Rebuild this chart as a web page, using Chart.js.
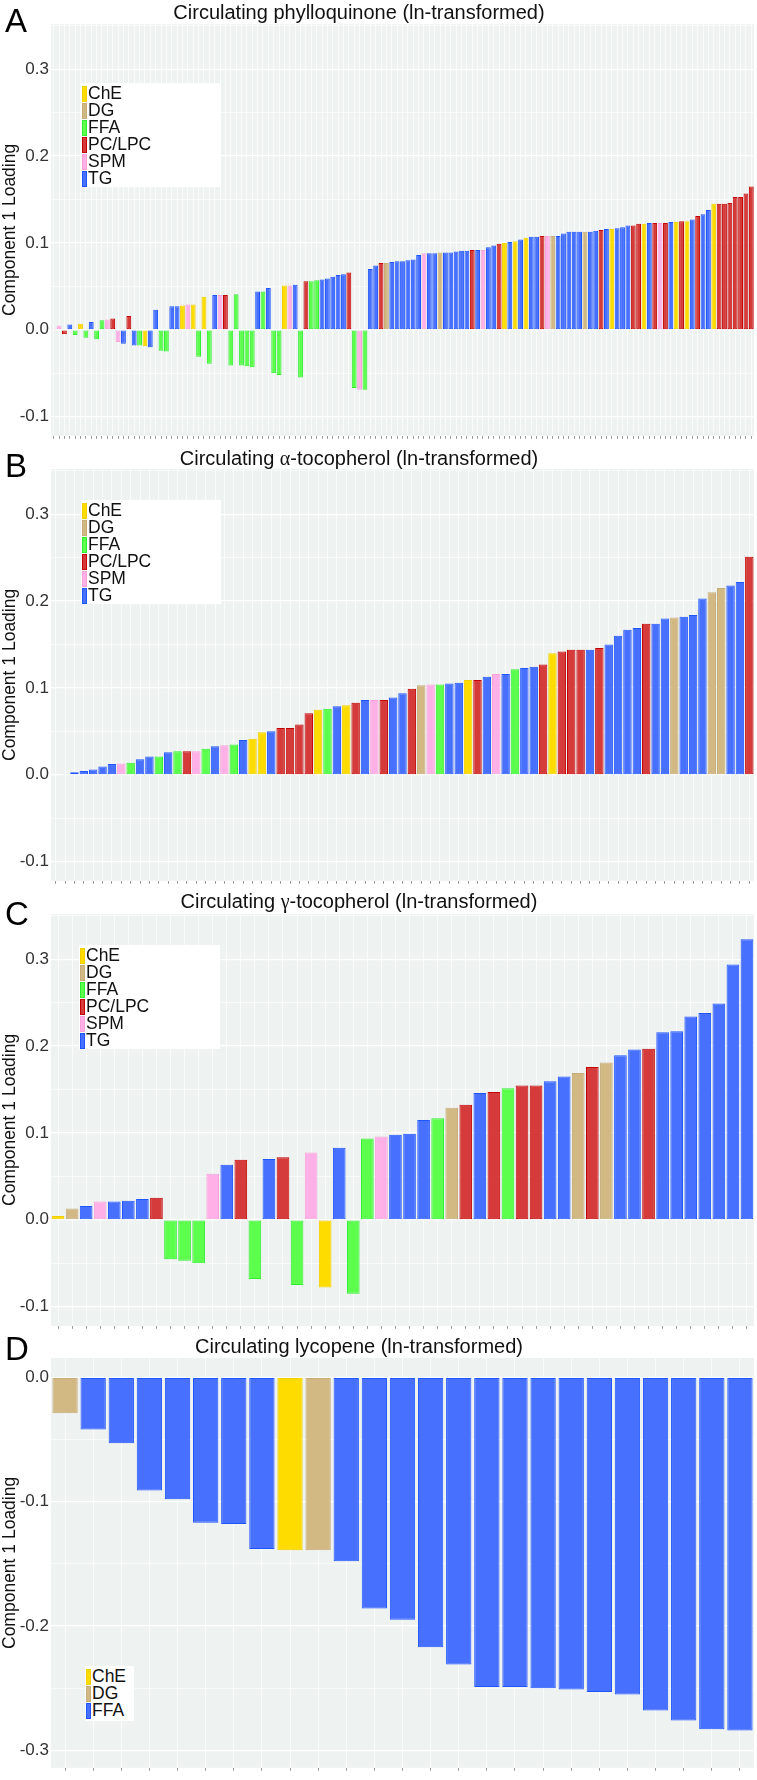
<!DOCTYPE html>
<html>
<head>
<meta charset="utf-8">
<script src="https://cdn.jsdelivr.net/npm/chart.js@4.4.1/dist/chart.umd.min.js"></script>
<style>
  body { margin: 0; width: 757px; height: 1780px; position: relative; background: #fff;
         font-family: "Liberation Sans", Arial, sans-serif; overflow: hidden; }
  .panel { position: absolute; left: 0; width: 757px; }
  .letter { position: absolute; left: 5px; font-size: 33px; line-height: 33px; color: #000; }
  .title { position: absolute; left: 0; width: 718px; text-align: center; font-size: 20px;
           line-height: 20px; color: #111; white-space: nowrap; }
  .title .gk { font-family: "Liberation Serif", serif; }
  .legend { position: absolute; background: #fff; box-sizing: border-box; padding-top: 2px; }
  .legend .row { position: relative; height: 17px; line-height: 17px; font-size: 17.5px;
                 padding-left: 7px; color: #111; }
  .legend .key { position: absolute; left: 1px; top: 0.5px; width: 3px; height: 14px; border: 1px solid; }
</style>
</head>
<body>
<div class="panel" style="top:0px;height:448px"><canvas id="chartA"></canvas></div>
<div class="panel" style="top:445px;height:448px"><canvas id="chartB"></canvas></div>
<div class="panel" style="top:890px;height:448px"><canvas id="chartC"></canvas></div>
<div class="panel" style="top:1334px;height:446px"><canvas id="chartD"></canvas></div>

<div class="title" style="top:1.5px">Circulating phylloquinone (ln-transformed)</div>
<div class="title" style="top:448px">Circulating <span class="gk">α</span>-tocopherol (ln-transformed)</div>
<div class="title" style="top:891px">Circulating <span class="gk">γ</span>-tocopherol (ln-transformed)</div>
<div class="title" style="top:1336px">Circulating lycopene (ln-transformed)</div>

<div class="letter" style="top:3.7px">A</div>
<div class="letter" style="top:449px">B</div>
<div class="letter" style="top:897px">C</div>
<div class="letter" style="top:1332px">D</div>

<div class="legend" id="legA" style="left:81px;top:83px;width:140px;height:104px"></div>
<div class="legend" id="legB" style="left:81px;top:500px;width:140px;height:104px"></div>
<div class="legend" id="legC" style="left:79px;top:945px;width:141px;height:104px"></div>
<div class="legend" id="legD" style="left:85px;top:1666px;width:49px;height:55px"></div>

<script>
// lipid classes, one per bar, sorted as in the figure
const classesA = [
  'PC/LPC','SPM','PC/LPC','TG','FFA','ChE','FFA','TG','FFA','FFA',
  'SPM','PC/LPC','SPM','TG','PC/LPC','TG','FFA','ChE','TG','TG',
  'FFA','FFA','TG','TG','ChE','SPM','ChE','FFA','ChE','FFA',
  'TG','SPM','PC/LPC','FFA','FFA','FFA','FFA','FFA','TG','FFA',
  'TG','FFA','FFA','ChE','SPM','TG','FFA','PC/LPC','FFA','FFA',
  'TG','TG','TG','TG','TG','PC/LPC','FFA','SPM','FFA','TG',
  'TG','PC/LPC','DG','TG','TG','TG','TG','TG','TG','SPM',
  'TG','TG','DG','TG','TG','TG','TG','TG','PC/LPC','TG',
  'SPM','TG','TG','PC/LPC','ChE','TG','ChE','TG','ChE','TG',
  'TG','PC/LPC','SPM','DG','TG','TG','TG','TG','TG','DG',
  'TG','TG','PC/LPC','TG','ChE','TG','TG','TG','PC/LPC','PC/LPC',
  'ChE','TG','PC/LPC','SPM','PC/LPC','TG','ChE','PC/LPC','ChE','TG',
  'PC/LPC','TG','TG','ChE','PC/LPC','PC/LPC','PC/LPC','PC/LPC','PC/LPC','PC/LPC',
  'PC/LPC'
];
const valuesA = [
  0.001, 0.005, -0.005, 0.006, -0.006, 0.007, -0.009, 0.009, -0.011, 0.011,
  0.012, 0.013, -0.014, -0.016, 0.016, -0.018, -0.018, -0.019, -0.020, 0.023,
  -0.024, -0.025, 0.027, 0.027, 0.028, 0.029, 0.029, -0.031, 0.038, -0.039,
  0.040, 0.040, 0.040, -0.041, 0.041, -0.041, -0.042, -0.043, 0.044, 0.044,
  0.048, -0.050, -0.052, 0.051, 0.051, 0.052, -0.055, 0.056, 0.056, 0.057,
  0.058, 0.059, 0.061, 0.063, 0.064, 0.066, -0.067, -0.069, -0.069, 0.070,
  0.074, 0.077, 0.077, 0.078, 0.079, 0.079, 0.080, 0.081, 0.086, 0.088,
  0.088, 0.088, 0.089, 0.089, 0.089, 0.090, 0.091, 0.091, 0.092, 0.092,
  0.092, 0.095, 0.097, 0.099, 0.100, 0.101, 0.102, 0.104, 0.106, 0.107,
  0.107, 0.108, 0.108, 0.108, 0.108, 0.111, 0.113, 0.113, 0.113, 0.113,
  0.113, 0.114, 0.115, 0.116, 0.116, 0.117, 0.118, 0.120, 0.120, 0.122,
  0.122, 0.123, 0.123, 0.123, 0.123, 0.124, 0.124, 0.125, 0.125, 0.127,
  0.131, 0.133, 0.138, 0.145, 0.145, 0.145, 0.146, 0.153, 0.153, 0.157,
  0.165
];

const classesB = [
  'TG','FFA','TG','TG','TG','TG','TG','SPM','FFA','TG',
  'TG','FFA','TG','FFA','PC/LPC','SPM','FFA','TG','SPM','FFA',
  'TG','ChE','ChE','TG','PC/LPC','PC/LPC','PC/LPC','PC/LPC','ChE','FFA',
  'TG','ChE','PC/LPC','TG','SPM','PC/LPC','TG','TG','PC/LPC','DG',
  'SPM','FFA','TG','TG','ChE','PC/LPC','TG','SPM','TG','FFA',
  'TG','TG','PC/LPC','ChE','PC/LPC','PC/LPC','PC/LPC','TG','PC/LPC','TG',
  'TG','TG','TG','PC/LPC','TG','TG','DG','TG','TG','TG',
  'DG','DG','TG','TG','PC/LPC'
];
const valuesB = [
  null, 0.001, 0.003, 0.0045, 0.006, 0.0095, 0.0125, 0.013, 0.014, 0.018,
  0.021, 0.021, 0.026, 0.027, 0.027, 0.027, 0.030, 0.033, 0.034, 0.035,
  0.040, 0.0415, 0.049, 0.050, 0.054, 0.054, 0.058, 0.071, 0.075, 0.076,
  0.079, 0.080, 0.083, 0.086, 0.086, 0.086, 0.089, 0.094, 0.099, 0.103,
  0.104, 0.104, 0.105, 0.106, 0.109, 0.109, 0.113, 0.116, 0.116, 0.1215,
  0.123, 0.1245, 0.127, 0.140, 0.142, 0.144, 0.144, 0.144, 0.146, 0.150,
  0.160, 0.167, 0.169, 0.174, 0.174, 0.180, 0.181, 0.182, 0.184, 0.203,
  0.210, 0.215, 0.218, 0.222, 0.251
];

const classesC = [
  'ChE','DG','TG','SPM','TG','TG','TG','PC/LPC','FFA','FFA',
  'FFA','SPM','TG','PC/LPC','FFA','TG','PC/LPC','FFA','SPM','ChE',
  'TG','FFA','FFA','SPM','TG','TG','TG','FFA','DG','PC/LPC',
  'TG','PC/LPC','FFA','PC/LPC','PC/LPC','TG','TG','DG','PC/LPC','DG',
  'TG','TG','PC/LPC','TG','TG','TG','TG','TG','TG','TG'
];
const valuesC = [
  0.0045, 0.013, 0.016, 0.021, 0.021, 0.022, 0.024, 0.0255, -0.0455, -0.047,
  -0.050, 0.053, 0.0635, 0.069, -0.068, 0.070, 0.072, -0.075, 0.0775, -0.078,
  0.083, -0.085, 0.0935, 0.096, 0.098, 0.099, 0.115, 0.117, 0.129, 0.1325,
  0.146, 0.147, 0.1515, 0.1545, 0.1545, 0.1595, 0.165, 0.169, 0.176, 0.181,
  0.1895, 0.196, 0.197, 0.216, 0.217, 0.234, 0.238, 0.249, 0.294, 0.323
];

const classesD = [
  'DG','FFA','FFA','FFA','FFA','FFA','FFA','FFA','ChE','DG',
  'FFA','FFA','FFA','FFA','FFA','FFA','FFA','FFA','FFA','FFA',
  'FFA','FFA','FFA','FFA','FFA'
];
const valuesD = [
  -0.029, -0.042, -0.053, -0.091, -0.098, -0.117, -0.118, -0.138, -0.139, -0.139,
  -0.148, -0.186, -0.195, -0.217, -0.231, -0.249, -0.249, -0.250, -0.251, -0.253,
  -0.255, -0.268, -0.276, -0.283, -0.284
];

const legendABC = ['ChE', 'DG', 'FFA', 'PC/LPC', 'SPM', 'TG'];
const legendD = ['ChE', 'DG', 'FFA'];

const yTicksABC = [-0.1, -0.05, 0, 0.05, 0.1, 0.15, 0.2, 0.25, 0.3, 0.35];
const yTicksD = [-0.3, -0.25, -0.2, -0.15, -0.1, -0.05, 0];

const fillColors = { 'ChE': '#FFDC00', 'DG': '#D2B883', 'FFA': '#5CFF4C', 'PC/LPC': '#D53B3B', 'SPM': '#FFB0E6', 'TG': '#4870FF' };
const edgeColors = { 'ChE': '#F2CF00', 'DG': '#C6AC78', 'FFA': '#30EE30', 'PC/LPC': '#C40000', 'SPM': '#F9A2DA', 'TG': '#1F55FF' };
// in panel D the FFA class is drawn in blue
const fillColorsD = Object.assign({}, fillColors, { 'FFA': fillColors['TG'] });
const edgeColorsD = Object.assign({}, edgeColors, { 'FFA': edgeColors['TG'] });

const FONT = '"Liberation Sans", Arial, sans-serif';

const plotBg = {
  id: 'plotBg',
  beforeDraw(chart) {
    const { ctx, chartArea: a } = chart;
    ctx.save();
    ctx.fillStyle = '#EEF2F1';
    ctx.fillRect(a.left, a.top, a.right - a.left, a.bottom - a.top);
    ctx.restore();
  }
};

function isMajor(v) {
  return Math.abs(v * 10 - Math.round(v * 10)) < 1e-6;
}

function makePanel(id, values, classes, fills, edges, yMin, yMax, ticks, padBottom) {
  return new Chart(document.getElementById(id), {
    type: 'bar',
    data: {
      labels: values.map((v, i) => String(i + 1)),
      datasets: [{
        data: values,
        backgroundColor: classes.map(c => fills[c]),
        borderColor: classes.map(c => edges[c]),
        borderWidth: 1,
        borderSkipped: false,
        barPercentage: 0.9,
        categoryPercentage: 1.0
      }]
    },
    options: {
      responsive: true,
      maintainAspectRatio: false,
      animation: false,
      layout: { padding: { top: 24, bottom: padBottom, left: 0, right: 3 } },
      plugins: { legend: { display: false }, tooltip: { enabled: false } },
      scales: {
        x: {
          offset: true,
          ticks: { display: false },
          grid: { offset: false, color: 'rgba(255,255,255,0.85)', lineWidth: 0.8,
                  drawTicks: true, tickLength: 3, tickColor: '#9a9a9a', tickWidth: 1 },
          border: { display: false }
        },
        y: {
          min: yMin,
          max: yMax,
          bounds: 'data',
          afterBuildTicks: s => { s.ticks = ticks.map(v => ({ value: v })); },
          afterFit: s => { s.width = 51; },
          ticks: {
            autoSkip: false,
            padding: 2,
            color: '#333',
            font: { size: 17, family: FONT },
            callback: v => isMajor(v) ? v.toFixed(1) : ''
          },
          grid: {
            color: '#ffffff',
            lineWidth: c => (c.tick && isMajor(c.tick.value)) ? 1.3 : 0.6,
            drawTicks: false
          },
          border: { display: false },
          title: {
            display: true,
            text: 'Component 1 Loading',
            color: '#111',
            font: { size: 17.5, family: FONT },
            padding: { top: 0, bottom: 0 }
          }
        }
      }
    },
    plugins: [plotBg]
  });
}

function makeLegend(id, names, fills, edges) {
  const box = document.getElementById(id);
  names.forEach(n => {
    const row = document.createElement('div');
    row.className = 'row';
    const key = document.createElement('span');
    key.className = 'key';
    key.style.background = fills[n];
    key.style.borderColor = edges[n];
    row.appendChild(key);
    row.appendChild(document.createTextNode(n));
    box.appendChild(row);
  });
}

makePanel('chartA', valuesA, classesA, fillColors, edgeColors, -0.122, 0.352, yTicksABC, 2);
makePanel('chartB', valuesB, classesB, fillColors, edgeColors, -0.122, 0.352, yTicksABC, 2);
makePanel('chartC', valuesC, classesC, fillColors, edgeColors, -0.122, 0.352, yTicksABC, 2);
makePanel('chartD', valuesD, classesD, fillColorsD, edgeColorsD, -0.314, 0.0155, yTicksD, 0);

makeLegend('legA', legendABC, fillColors, edgeColors);
makeLegend('legB', legendABC, fillColors, edgeColors);
makeLegend('legC', legendABC, fillColors, edgeColors);
makeLegend('legD', legendD, fillColorsD, edgeColorsD);
</script>
</body>
</html>
